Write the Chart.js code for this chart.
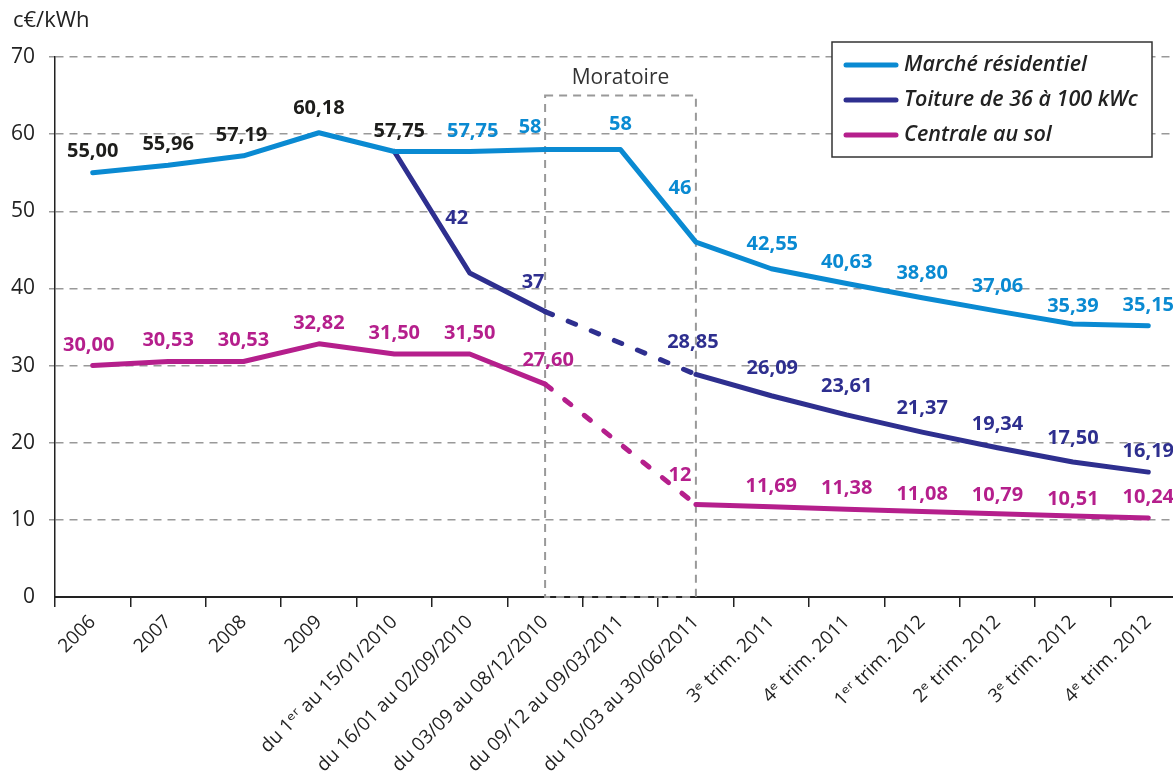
<!DOCTYPE html>
<html lang="fr">
<head>
<meta charset="utf-8">
<title>Tarifs d'achat photovoltaïques</title>
<script src="https://cdn.jsdelivr.net/npm/chart.js@4.4.1/dist/chart.umd.min.js"></script>
<style>
  html, body { margin: 0; padding: 0; background: #fff; overflow: hidden; }
  canvas { display: block; }
</style>
</head>
<body>
<canvas id="tarifsChart" width="1190" height="775"></canvas>
<script>
// periodes tarifaires
const periodes = [
    '2006', '2007', '2008', '2009',
    'du 1\u1D49\u02B3 au 15/01/2010', 'du 16/01 au 02/09/2010', 'du 03/09 au 08/12/2010',
    'du 09/12 au 09/03/2011', 'du 10/03 au 30/06/2011',
    '3\u1D49 trim. 2011', '4\u1D49 trim. 2011', '1\u1D49\u02B3 trim. 2012',
    '2\u1D49 trim. 2012', '3\u1D49 trim. 2012', '4\u1D49 trim. 2012'
];

// c€/kWh
const marcheResidentiel = [55.00, 55.96, 57.19, 60.18, 57.75, 57.75, 58, 58, 46, 42.55, 40.63, 38.80, 37.06, 35.39, 35.15];
const toiture36a100 = [null, null, null, null, 57.75, 42, 37, null, 28.85, 26.09, 23.61, 21.37, 19.34, 17.50, 16.19];
const centraleSol = [30.00, 30.53, 30.53, 32.82, 31.50, 31.50, 27.60, null, 12, 11.69, 11.38, 11.08, 10.79, 10.51, 10.24];

// valeurs affichées sans décimales
const arrondis = [[6, 7, 8], [5, 6], [8]];

const yTicks = [0, 10, 20, 30, 40, 50, 60, 70];

// moratoire : de la 7e à la 9e période
const moratoire = { debut: 6, fin: 8, haut: 65 };

const BLEU = '#0a8ad2';
const MARINE = '#2e2f8f';
const MAGENTA = '#b51f8c';
const NOIR = '#1d1d1b';

Chart.defaults.font.family = "'Open Sans', 'DejaVu Sans', sans-serif";

// decalage des etiquettes [dx, dy] par serie / point
const decalages = [
    { 2: [-2, -21], 3: [0, -24], 4: [5, -20], 5: [3, -20], 6: [-15, -22], 7: [0, -25], 8: [-16, -54], 9: [1, -24], 11: [0, -24], 12: [0, -25], 13: [0, -18] },
    { 4: null, 5: [-13, -55], 6: [-12, -29], 8: [-3, -32], 9: [1, -27], 10: [0, -29], 11: [0, -24], 12: [0, -24], 13: [0, -24] },
    { 0: [-4, -20], 6: [3, -24], 8: [-16, -29], 11: [0, -17], 12: [0, -18], 13: [0, -17] }
];

// pointillés pendant le moratoire
const dashMoratoire = ctx =>
    ctx.p0DataIndex >= moratoire.debut && ctx.p1DataIndex <= moratoire.fin ? [8, 17] : undefined;

function formatFr(v, entier) {
    return entier ? String(Math.round(v)) : v.toFixed(2).replace('.', ',');
}

const etiquettes = {
    id: 'etiquettes',
    afterDatasetsDraw(chart) {
        const ctx = chart.ctx;
        ctx.save();
        ctx.font = "bold 20px 'Open Sans', sans-serif";
        ctx.textAlign = 'center';
        ctx.textBaseline = 'middle';
        chart.data.datasets.forEach((ds, di) => {
            const meta = chart.getDatasetMeta(di);
            meta.data.forEach((pt, i) => {
                const v = ds.data[i];
                if (v === null || v === undefined) return;
                const d = decalages[di][i];
                if (d === null) return;
                const [dx, dy] = d || [0, -21];
                ctx.fillStyle = (di === 0 && i <= 4) ? NOIR : ds.borderColor;
                ctx.fillText(formatFr(v, arrondis[di].includes(i)), pt.x + dx, pt.y + dy);
            });
        });
        ctx.restore();
    }
};

const cadreMoratoire = {
    id: 'cadreMoratoire',
    beforeDatasetsDraw(chart) {
        const { ctx, scales: { x, y } } = chart;
        const x1 = x.getPixelForValue(moratoire.debut);
        const x2 = x.getPixelForValue(moratoire.fin);
        const y1 = y.getPixelForValue(moratoire.haut);
        const y2 = y.getPixelForValue(0);
        ctx.save();
        ctx.strokeStyle = '#999';
        ctx.lineWidth = 2;
        ctx.setLineDash([8, 6]);
        ctx.strokeRect(x1, y1, x2 - x1, y2 - y1);
        ctx.setLineDash([]);
        ctx.fillStyle = '#333';
        ctx.font = "21px 'Open Sans', sans-serif";
        ctx.textAlign = 'center';
        ctx.textBaseline = 'middle';
        ctx.fillText('Moratoire', (x1 + x2) / 2, y1 - 18);
        ctx.restore();
    }
};

// unite + legende encadree
const habillage = {
    id: 'habillage',
    afterDraw(chart) {
        const ctx = chart.ctx;
        ctx.save();
        ctx.fillStyle = '#222';
        ctx.font = "22px 'Open Sans', sans-serif";
        ctx.textAlign = 'left';
        ctx.textBaseline = 'middle';
        ctx.fillText('c€/kWh', 13, 21);

        const bx = 832, by = 42, bw = 320, bh = 115;
        ctx.fillStyle = '#fff';
        ctx.fillRect(bx, by, bw, bh);
        ctx.strokeStyle = '#333';
        ctx.lineWidth = 1.5;
        ctx.strokeRect(bx, by, bw, bh);
        ctx.font = "italic 600 21.5px 'Open Sans', sans-serif";
        chart.data.datasets.forEach((ds, i) => {
            const cy = by + 23 + i * 35;
            ctx.strokeStyle = ds.borderColor;
            ctx.lineWidth = 5;
            ctx.lineCap = 'round';
            ctx.beginPath();
            ctx.moveTo(bx + 14, cy);
            ctx.lineTo(bx + 64, cy);
            ctx.stroke();
            ctx.fillStyle = '#222';
            ctx.fillText(ds.label, bx + 72, cy);
        });
        ctx.restore();
    }
};

const ligne = {
    borderWidth: 5,
    pointRadius: 0,
    pointHoverRadius: 0,
    tension: 0,
    borderJoinStyle: 'round',
    borderCapStyle: 'round',
    fill: false
};

new Chart(document.getElementById('tarifsChart'), {
    type: 'line',
    data: {
        labels: periodes,
        datasets: [
            { ...ligne, label: 'Marché résidentiel', data: marcheResidentiel, borderColor: BLEU },
            { ...ligne, label: 'Toiture de 36 à 100 kWc', data: toiture36a100, borderColor: MARINE, spanGaps: true, segment: { borderDash: dashMoratoire } },
            { ...ligne, label: 'Centrale au sol', data: centraleSol, borderColor: MAGENTA, spanGaps: true, segment: { borderDash: dashMoratoire } }
        ]
    },
    options: {
        responsive: false,
        animation: false,
        layout: { padding: { top: 57, left: 0, right: 4, bottom: 0 } },
        plugins: {
            legend: { display: false },
            tooltip: { enabled: false }
        },
        scales: {
            x: {
                offset: true,
                grid: { display: true, drawOnChartArea: false, drawTicks: true, tickLength: 10, color: '#222', lineWidth: 1.5, offset: true },
                border: { display: true, color: '#222', width: 2 },
                ticks: { color: '#222', font: { size: 19 }, maxRotation: 45, minRotation: 45, padding: 4, autoSkip: false },
                afterFit: s => { s.height = 178; }
            },
            y: {
                min: 0,
                max: 70,
                afterBuildTicks: s => { s.ticks = yTicks.map(v => ({ value: v })); },
                grid: {
                    color: c => c.tick && c.tick.value === 0 ? 'rgba(0,0,0,0)' : '#999',
                    lineWidth: 1.5,
                    tickLength: 6
                },
                border: { display: true, color: '#222', width: 1.5, dash: [8, 6] },
                ticks: { color: '#222', font: { size: 21 }, padding: 14 },
                afterFit: s => { s.width = 55; }
            }
        }
    },
    plugins: [cadreMoratoire, etiquettes, habillage]
});
</script>
</body>
</html>
